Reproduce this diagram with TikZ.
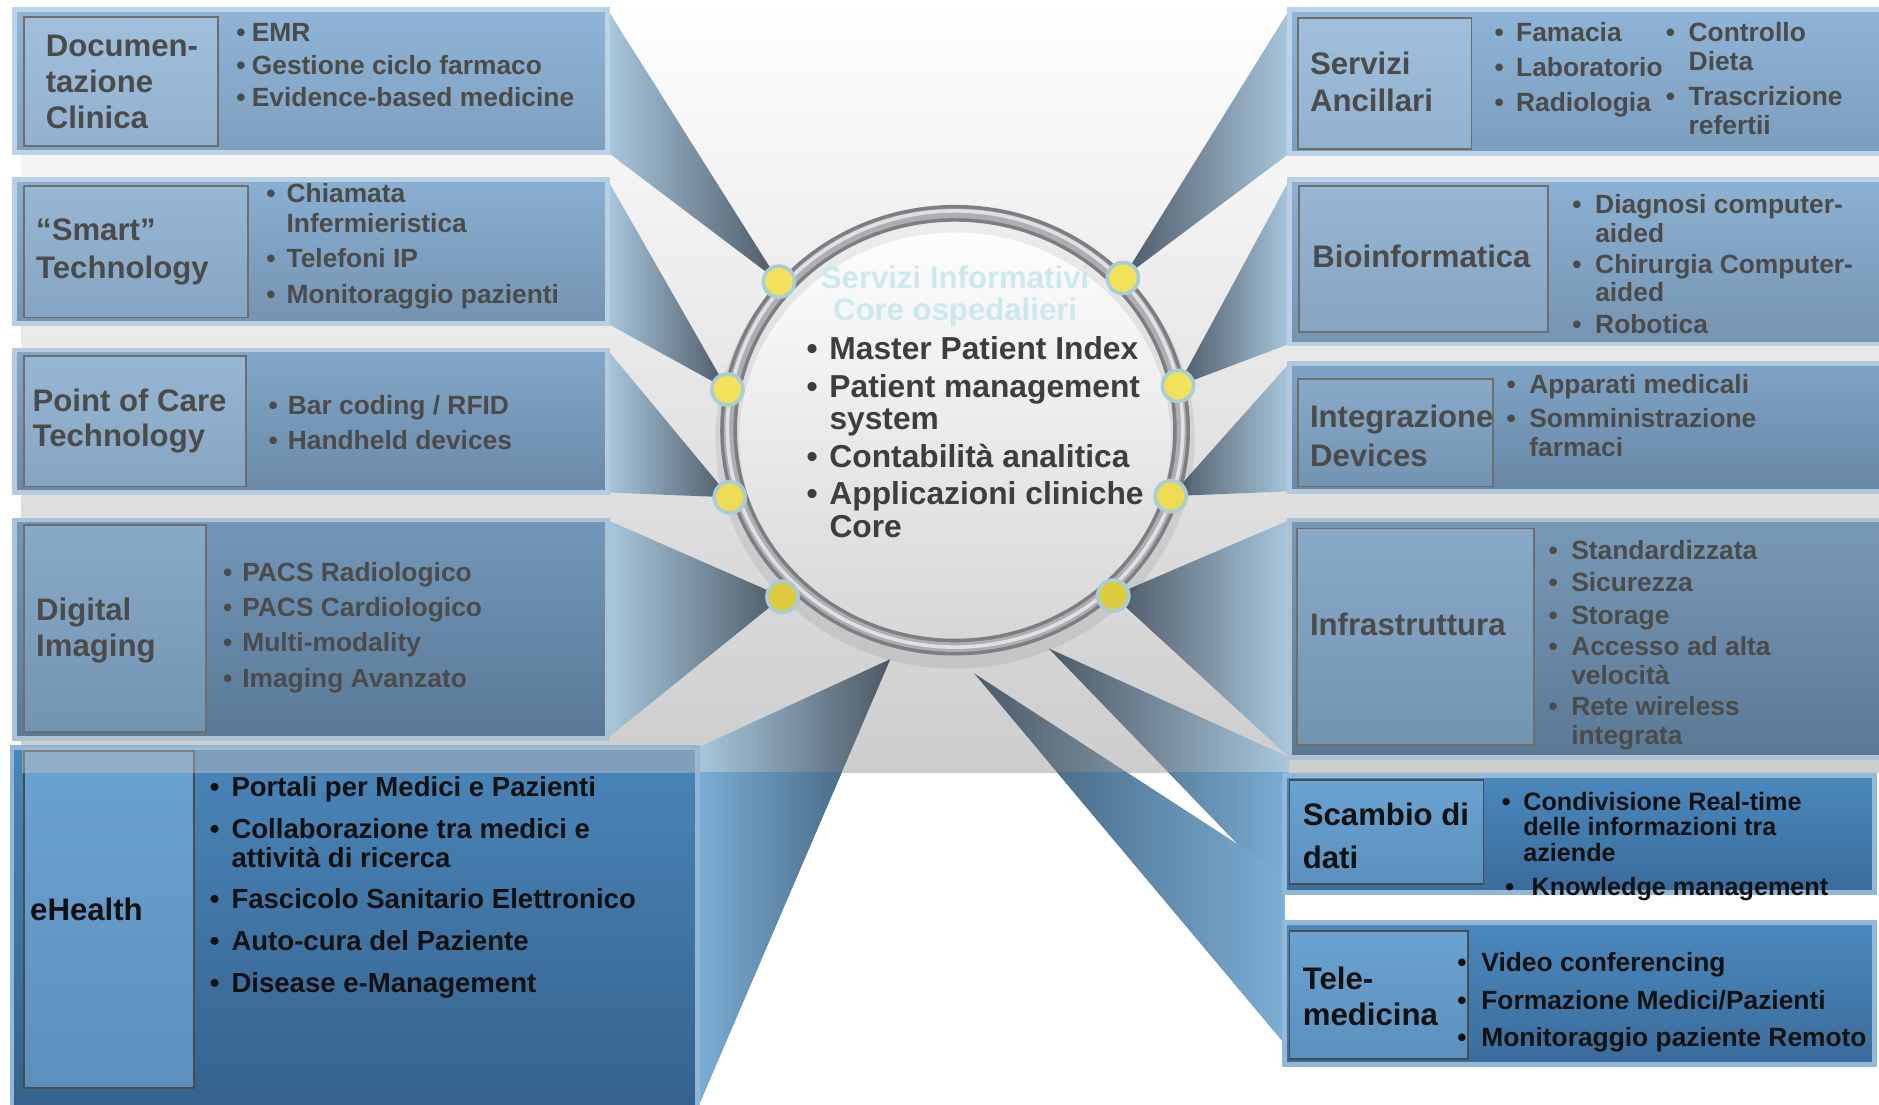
\documentclass[tikz,border=0pt]{standalone}
\usepackage{fontspec}
\setmainfont{Liberation Sans}
\pgfdeclarelayer{back}
\pgfsetlayers{back,main}

\definecolor{docA}{HTML}{8FB4D7}\definecolor{docB}{HTML}{7F9FBF}
\definecolor{smtA}{HTML}{8AAFD2}\definecolor{smtB}{HTML}{7593B0}
\definecolor{pocA}{HTML}{83A7C9}\definecolor{pocB}{HTML}{6A89A7}
\definecolor{dimA}{HTML}{7397B9}\definecolor{dimB}{HTML}{5A7997}
\definecolor{ehlA}{HTML}{4A86BA}\definecolor{ehlB}{HTML}{35628D}
\definecolor{srvA}{HTML}{8FB4D7}\definecolor{srvB}{HTML}{7C9DBD}
\definecolor{bioA}{HTML}{8DB1D3}\definecolor{bioB}{HTML}{7594B1}
\definecolor{itgA}{HTML}{80A4C6}\definecolor{itgB}{HTML}{6786A4}
\definecolor{infA}{HTML}{7899B7}\definecolor{infB}{HTML}{5B7995}
\definecolor{scbA}{HTML}{4B88BD}\definecolor{scbB}{HTML}{3A6C9B}
\definecolor{tagA}{HTML}{A0BFDC}\definecolor{tagB}{HTML}{92B1CE}
\definecolor{tagC}{HTML}{96B6D4}\definecolor{tagD}{HTML}{86A5C2}
\definecolor{tagE}{HTML}{88A9C8}\definecolor{tagF}{HTML}{7394B1}
\definecolor{tagG}{HTML}{6AA2D1}\definecolor{tagH}{HTML}{5B90BE}
\definecolor{tagline}{HTML}{6E6E6E}
\definecolor{txtgray}{HTML}{4B4B4B}
\definecolor{txtcore}{HTML}{3E3E3E}
\definecolor{txtdark}{HTML}{111111}
\definecolor{titlecy}{HTML}{CDE8EE}
\definecolor{beamlt}{HTML}{A8C7DD}\definecolor{beamdk}{HTML}{4D5966}
\definecolor{beamlb}{HTML}{7BAED4}\definecolor{beamdb}{HTML}{3A5872}
\definecolor{ringD}{HTML}{7E7E82}\definecolor{ringM}{HTML}{ADADB2}\definecolor{ringH}{HTML}{E0E0E4}
\definecolor{coreB}{HTML}{D6D6D6}
\definecolor{dotyel}{HTML}{F2E25A}\definecolor{dotlow}{HTML}{DCCB3E}\definecolor{dotrim}{HTML}{A9CCD6}
\definecolor{bandB}{HTML}{CDCDCD}\definecolor{bandM}{HTML}{EDEDED}

\newcommand{\itm}[1]{\makebox[#1][l]{\textbullet}}
\newcommand{\cnt}[1]{\hspace*{#1}}
\newcommand{\rows}[1]{\begin{tabular}[t]{@{}l@{}}#1\end{tabular}}

\begin{document}
\begin{tikzpicture}[x=1pt,y=-1pt,
  panel/.style 2 args={anchor=north west,inner sep=0pt,outer sep=0pt,line width=4pt,top color=#1,bottom color=#2,draw=#1!60!white},
  tag/.style 2 args={anchor=north west,inner sep=0pt,outer sep=0pt,line width=1.5pt,draw=tagline,top color=#1,bottom color=#2},
  hdtxt/.style={anchor=base west,inner sep=0pt,text=txtgray,font=\fontsize{26}{30}\selectfont\bfseries},
  bultxt/.style={anchor=base west,inner sep=0pt,text=txtgray,font=\fontsize{22}{25}\selectfont\bfseries},
  knob/.style={circle,inner sep=0pt,minimum size=26pt,fill=dotyel,draw=dotrim,line width=3pt},
  beamL/.style={left color=beamlt,right color=beamdk},
  beamR/.style={left color=beamdk,right color=beamlt},
  beamLb/.style={left color=beamlb,right color=beamdb},
  beamRb/.style={left color=beamdb,right color=beamlb}]

\useasboundingbox (0,0) rectangle (1568,922);

% left panels
\node[panel={docA}{docB},minimum width=495pt,minimum height=119pt] (doc) at (12,8) {};
\node[panel={smtA}{smtB},minimum width=495pt,minimum height=120pt] (smt) at (12,150) {};
\node[panel={pocA}{pocB},minimum width=495pt,minimum height=119pt] (poc) at (12,292) {};
\node[panel={dimA}{dimB},minimum width=495pt,minimum height=182pt] (dim) at (12,434) {};
\node[panel={ehlA}{ehlB},minimum width=572pt,minimum height=301pt] (ehl) at (10,624) {};
\node[tag={tagA}{tagB},minimum width=162pt,minimum height=108pt] (doctag) at (20,14) {};
\node[tag={tagC}{tagD},minimum width=187pt,minimum height=110pt] (smttag) at (20,155) {};
\node[tag={tagC}{tagD},minimum width=185pt,minimum height=109pt] (poctag) at (20,297) {};
\node[tag={tagE}{tagF},minimum width=152pt,minimum height=173pt] (dimtag) at (20,438) {};
\node[tag={tagG}{tagH},draw=black!70,minimum width=142pt,minimum height=281pt] (ehltag) at (20,627) {};
\fill[black!25,opacity=.45] (18,624) rectangle (582,645);

% right panels
\node[panel={srvA}{srvB},minimum width=499pt,minimum height=120pt] (srv) at (1076,8) {};
\node[panel={bioA}{bioB},minimum width=499pt,minimum height=137pt] (bio) at (1076,150) {};
\node[panel={itgA}{itgB},minimum width=499pt,minimum height=107pt] (itg) at (1076,303) {};
\node[panel={infA}{infB},minimum width=499pt,minimum height=198pt] (inf) at (1076,434) {};
\node[panel={scbA}{scbB},minimum width=492pt,minimum height=98pt] (scb) at (1072,647) {};
\node[panel={scbA}{scbB},minimum width=492pt,minimum height=118pt] (tel) at (1072,770) {};
\node[tag={tagA}{tagB},minimum width=145pt,minimum height=109pt] (srvtag) at (1083,15) {};
\node[tag={tagC}{tagD},minimum width=208pt,minimum height=122pt] (biotag) at (1084,155) {};
\node[tag={tagE}{tagF},minimum width=163pt,minimum height=90pt] (itgtag) at (1083,316) {};
\node[tag={tagE}{tagF},minimum width=198pt,minimum height=181pt] (inftag) at (1082,441) {};
\node[tag={tagG}{tagH},draw=black!70,minimum width=162pt,minimum height=87pt] (scbtag) at (1076,651) {};
\node[tag={tagG}{tagH},draw=black!70,minimum width=149pt,minimum height=107pt] (teltag) at (1076,777) {};

% core ring
\shade[top color=white,bottom color=coreB] (797,359) ellipse [x radius=186,y radius=178];
\draw[line width=20pt,black,opacity=.07] (797,366) ellipse [x radius=190,y radius=182];
\draw[line width=14pt,ringD] (797,359) ellipse [x radius=189,y radius=181];
\draw[line width=8pt,ringM] (797,359) ellipse [x radius=189,y radius=181];
\draw[line width=3pt,ringH] (797,358) ellipse [x radius=190,y radius=182];

\node[knob] (d1) at (650,235) {};
\node[knob] (d2) at (937,232) {};
\node[knob] (d3) at (607,325) {};
\node[knob] (d4) at (983,322) {};
\node[knob,fill=dotyel!80!dotlow] (d5) at (609,415) {};
\node[knob,fill=dotyel!80!dotlow] (d6) at (977,414) {};
\node[knob,fill=dotlow] (d7) at (653,498) {};
\node[knob,fill=dotlow] (d8) at (929,497) {};
\coordinate (r1) at (743,550);
\coordinate (r2) at (875,541);
\coordinate (r3) at (813,562);
\coordinate (t1) at (1072,730);
\coordinate (t2) at (1072,871);

\begin{pgfonlayer}{back}
  \fill[white] (0,0) rectangle (1568,922);
  \shade[top color=white,middle color=bandM,bottom color=bandB] (18,0) rectangle (1568,645);
  \path[beamL] (doc.north east) -- (doc.south east) -- (d1.center) -- cycle;
  \path[beamL] (smt.north east) -- (smt.south east) -- (d3.center) -- cycle;
  \path[beamL] (poc.north east) -- (poc.south east) -- (d5.center) -- cycle;
  \path[beamL] (dim.north east) -- (dim.south east) -- (d7.center) -- cycle;
  \path[beamL] (ehl.north east) -- (ehl.south east) -- (r1) -- cycle;
  \path[beamR] (srv.north west) -- (srv.south west) -- (d2.center) -- cycle;
  \path[beamR] (bio.north west) -- (bio.south west) -- (d4.center) -- cycle;
  \path[beamR] (itg.north west) -- (itg.south west) -- (d6.center) -- cycle;
  \path[beamR] (inf.north west) -- (inf.south west) -- (d8.center) -- cycle;
  \path[beamR] (r2) -- (inf.south west) -- (scb.south west) -- cycle;
  \path[beamR] (r3) -- (t1) -- (t2) -- cycle;
  \begin{scope}
    \clip (0,645) rectangle (1568,922);
    \path[beamLb] (ehl.north east) -- (ehl.south east) -- (r1) -- cycle;
    \path[beamRb] (r2) -- (inf.south west) -- (scb.south west) -- cycle;
    \path[beamRb] (r3) -- (t1) -- (t2) -- cycle;
  \end{scope}
\end{pgfonlayer}

% texts
\node[anchor=base,inner sep=0pt,text=titlecy,font=\fontsize{26}{26}\selectfont\bfseries] (ctitle) at (797,241)
  {\begin{tabular}[t]{@{}c@{}}Servizi Informativi\\Core ospedalieri\end{tabular}};
\node[bultxt,text=txtcore,font=\fontsize{26.5}{27}\selectfont\bfseries] (clist) at (673,300)
  {\rows{\itm{19pt}Master Patient Index\\[4pt]\itm{19pt}Patient management\\\cnt{19pt}system\\[4pt]\itm{19pt}Contabilità analitica\\[4pt]\itm{19pt}Applicazioni cliniche\\\cnt{19pt}Core}};

\node[hdtxt] (doch) at (38,47) {\rows{Documen-\\tazione\\Clinica}};
\node[bultxt] (docl) at (197,35) {\rows{\itm{13pt}EMR\\[2pt]\itm{13pt}Gestione ciclo farmaco\\[2pt]\itm{13pt}Evidence-based medicine}};
\node[hdtxt] (smth) at (30,201) {\rows{“Smart”\\[1pt]Technology}};
\node[bultxt] (smtl) at (222,169) {\rows{\itm{17pt}Chiamata\\\cnt{17pt}Infermieristica\\[4pt]\itm{17pt}Telefoni IP\\[5pt]\itm{17pt}Monitoraggio pazienti}};
\node[hdtxt] (poch) at (27,343) {\rows{Point of Care\\Technology}};
\node[bultxt] (pocl) at (224,346) {\rows{\itm{16pt}Bar coding / RFID\\[4pt]\itm{16pt}Handheld devices}};
\node[hdtxt] (dimh) at (30,518) {\rows{Digital\\Imaging}};
\node[bultxt] (diml) at (186,485) {\rows{\itm{16pt}PACS Radiologico\\[4.5pt]\itm{16pt}PACS Cardiologico\\[4.5pt]\itm{16pt}Multi-modality\\[4.5pt]\itm{16pt}Imaging Avanzato}};
\node[hdtxt,text=txtdark] (ehlh) at (25,768) {eHealth};
\node[bultxt,text=txtdark,font=\fontsize{23}{24}\selectfont\bfseries] (ehll) at (175,665)
  {\rows{\itm{18pt}Portali per Medici e Pazienti\\[11pt]\itm{18pt}Collaborazione tra medici e\\\cnt{18pt}attività di ricerca\\[10pt]\itm{18pt}Fascicolo Sanitario Elettronico\\[11pt]\itm{18pt}Auto-cura del Paziente\\[11pt]\itm{18pt}Disease e-Management}};

\node[hdtxt] (srvh) at (1093,62) {\rows{Servizi\\[1pt]Ancillari}};
\node[bultxt] (srvl) at (1247,35) {\rows{\itm{18pt}Famacia\\[4pt]\itm{18pt}Laboratorio\\[4pt]\itm{18pt}Radiologia}};
\node[bultxt,font=\fontsize{22}{24}\selectfont\bfseries] (srvm) at (1390,35) {\rows{\itm{19pt}Controllo\\\cnt{19pt}Dieta\\[5pt]\itm{19pt}Trascrizione\\\cnt{19pt}refertii}};
\node[hdtxt] (bioh) at (1095,223) {Bioinformatica};
\node[bultxt,font=\fontsize{22}{24}\selectfont\bfseries] (biol) at (1312,178) {\rows{\itm{19pt}Diagnosi computer-\\\cnt{19pt}aided\\[2pt]\itm{19pt}Chirurgia Computer-\\\cnt{19pt}aided\\[2pt]\itm{19pt}Robotica}};
\node[hdtxt] (itgh) at (1093,357) {\rows{Integrazione\\[2pt]Devices}};
\node[bultxt,font=\fontsize{22}{24}\selectfont\bfseries] (itgl) at (1257,328) {\rows{\itm{19pt}Apparati medicali\\[5pt]\itm{19pt}Somministrazione\\\cnt{19pt}farmaci}};
\node[hdtxt] (infh) at (1093,530) {Infrastruttura};
\node[bultxt,font=\fontsize{22}{24}\selectfont\bfseries] (infl) at (1292,467) {\rows{\itm{19pt}Standardizzata\\[3pt]\itm{19pt}Sicurezza\\[3pt]\itm{19pt}Storage\\[2pt]\itm{19pt}Accesso ad alta\\\cnt{19pt}velocità\\[2pt]\itm{19pt}Rete wireless\\\cnt{19pt}integrata}};
\node[hdtxt,text=txtdark,font=\fontsize{26}{36}\selectfont\bfseries] (scbh) at (1087,689) {\rows{Scambio di\\dati}};
\node[bultxt,text=txtdark,font=\fontsize{21}{21}\selectfont\bfseries] (scbl) at (1253,676) {\rows{\itm{18pt}Condivisione Real-time\\\cnt{18pt}delle informazioni tra\\\cnt{18pt}aziende\\[7pt]\cnt{3pt}\itm{22pt}Knowledge management}};
\node[hdtxt,text=txtdark] (telh) at (1087,826) {\rows{Tele-\\medicina}};
\node[bultxt,text=txtdark,font=\fontsize{22}{31}\selectfont\bfseries] (tell) at (1216,811) {\rows{\itm{20pt}Video conferencing\\\itm{20pt}Formazione Medici/Pazienti\\\itm{20pt}Monitoraggio paziente Remoto}};
\end{tikzpicture}
\end{document}
